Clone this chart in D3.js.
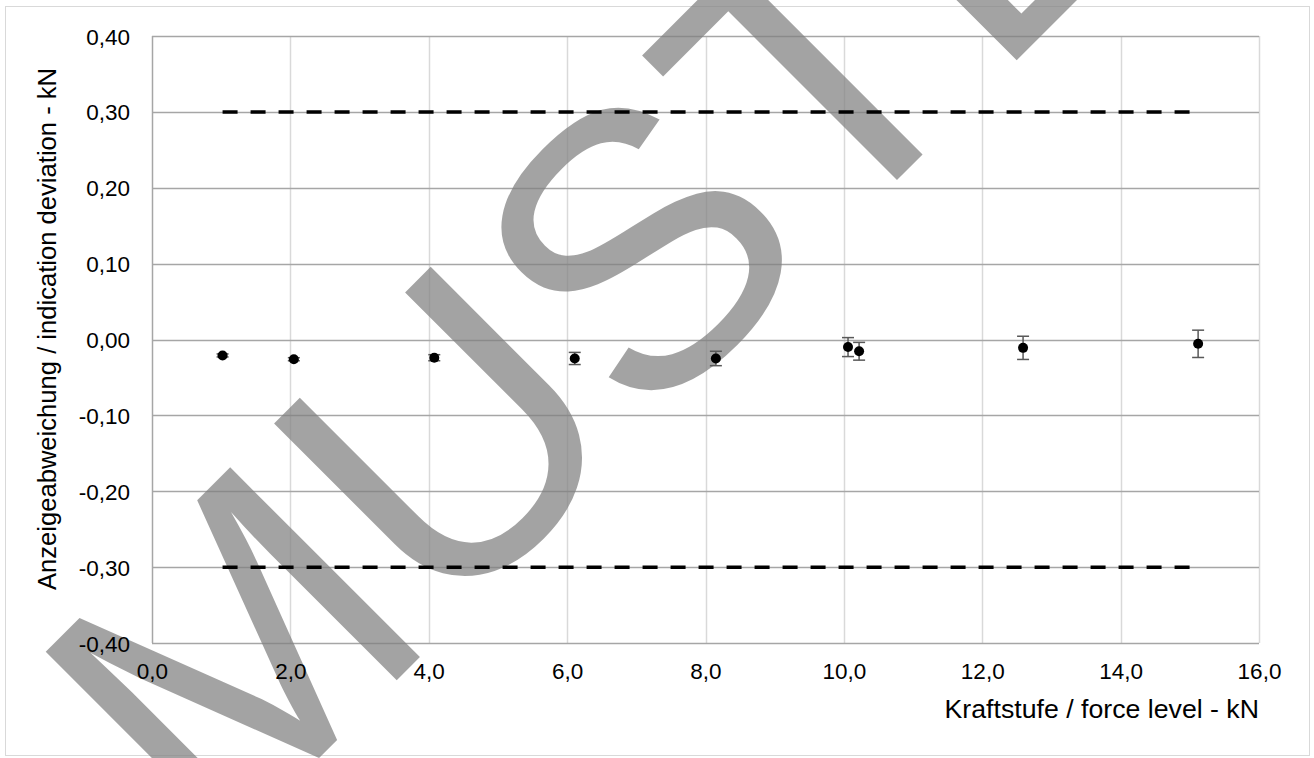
<!DOCTYPE html>
<html>
<head>
<meta charset="utf-8">
<script src="https://cdn.jsdelivr.net/npm/d3@7"></script>
<style>
  html, body { margin: 0; padding: 0; background: #fff; }
  svg { display: block; font-family: "Liberation Sans", Arial, sans-serif; }
</style>
</head>
<body>
<div id="chart"></div>
<script>
/* Anzeigeabweichung vs Kraftstufe, scatter with error bars and +-0,30 kN limits */

// measured points
var forceLevels = [1.02, 2.05, 4.08, 6.11, 8.15, 10.06, 10.22, 12.59, 15.12];
var deviations = [-0.021, -0.026, -0.024, -0.025, -0.025, -0.010, -0.0155, -0.011, -0.0057];
var errors = [0.002, 0.002, 0.004, 0.008, 0.0095, 0.0125, 0.0117, 0.0153, 0.018];

// tolerance limits, drawn across the measured range
var limitX = [1.02, 15.12];
var limitValues = [0.30, -0.30];

// axes
var xTicks = [0, 2, 4, 6, 8, 10, 12, 14, 16];
var yTicks = [-0.4, -0.3, -0.2, -0.1, 0, 0.1, 0.2, 0.3, 0.4];
var xTitle = "Kraftstufe / force level - kN";
var yTitle = "Anzeigeabweichung / indication deviation - kN";
var watermark = "MUSTER";

(function () {
  "use strict";

  var W = 1314, H = 758;
  var m = { l: 152, r: 1259, t: 36, b: 643 };

  var de = d3.formatLocale({ decimal: ",", thousands: ".", grouping: [3], currency: ["", " €"], minus: "-" });
  var fmtY = de.format(".2f");
  var fmtX = de.format(".1f");

  var svg = d3.select("#chart").append("svg").attr("width", W).attr("height", H);

  // outer chart frame
  svg.append("rect").attr("x", 5.5).attr("y", 6.5).attr("width", 1304).attr("height", 749)
    .attr("fill", "#fff").attr("stroke", "#d9d9d9").attr("stroke-width", 1);

  var x = d3.scaleLinear().domain([0, 16]).range([m.l, m.r]);
  var y = d3.scaleLinear().domain([-0.4, 0.4]).range([m.b, m.t]);

  // vertical grid (light)
  svg.append("g").selectAll("line").data(xTicks.slice(1)).join("line")
    .attr("x1", function (d) { return Math.round(x(d)) + 0.5; })
    .attr("x2", function (d) { return Math.round(x(d)) + 0.5; })
    .attr("y1", m.t).attr("y2", m.b)
    .attr("stroke", "#d9d9d9").attr("stroke-width", 1.5);

  // horizontal grid (darker)
  svg.append("g").selectAll("line").data(yTicks.slice(1)).join("line")
    .attr("x1", m.l).attr("x2", m.r)
    .attr("y1", function (d) { return Math.round(y(d)) + 0.5; })
    .attr("y2", function (d) { return Math.round(y(d)) + 0.5; })
    .attr("stroke", "#a6a6a6").attr("stroke-width", 1.5);

  // axis lines
  svg.append("line").attr("x1", m.l + 0.5).attr("x2", m.l + 0.5).attr("y1", m.t).attr("y2", m.b)
    .attr("stroke", "#a6a6a6").attr("stroke-width", 1.5);
  svg.append("line").attr("x1", m.l).attr("x2", m.r).attr("y1", m.b + 0.5).attr("y2", m.b + 0.5)
    .attr("stroke", "#a6a6a6").attr("stroke-width", 1.5);

  // watermark: semi transparent over the grid, under labels and marks
  svg.append("text")
    .attr("transform", "translate(795,282) rotate(-45)")
    .attr("text-anchor", "middle")
    .attr("font-size", 390)
    .attr("fill", "#808080").attr("fill-opacity", 0.72)
    .text(watermark);

  // tick labels via d3 axes, lines hidden
  var yAxis = svg.append("g").attr("transform", "translate(" + (m.l - 22) + ",0)")
    .call(d3.axisLeft(y).tickValues(yTicks).tickFormat(fmtY).tickSize(0).tickPadding(0));
  yAxis.select(".domain").remove();
  yAxis.selectAll("text").attr("font-size", 22.5).attr("fill", "#000")
    .attr("font-family", "'Liberation Sans', Arial, sans-serif").attr("dy", "0.36em");

  var xAxis = svg.append("g").attr("transform", "translate(0," + (m.b + 20) + ")")
    .call(d3.axisBottom(x).tickValues(xTicks).tickFormat(fmtX).tickSize(0).tickPadding(0));
  xAxis.select(".domain").remove();
  xAxis.selectAll("text").attr("font-size", 22.5).attr("fill", "#000")
    .attr("font-family", "'Liberation Sans', Arial, sans-serif").attr("dy", "0.72em");

  // axis titles
  svg.append("text").attr("x", m.r).attr("y", 718).attr("text-anchor", "end")
    .attr("font-size", 26.7).attr("fill", "#000").text(xTitle);
  svg.append("text").attr("transform", "translate(56,329) rotate(-90)")
    .attr("text-anchor", "middle").attr("font-size", 25.6).attr("fill", "#000").text(yTitle);

  // limit lines
  var limitLine = d3.line().x(function (d) { return x(d[0]); }).y(function (d) { return y(d[1]); });
  limitValues.forEach(function (v) {
    svg.append("path")
      .datum(limitX.map(function (lx) { return [lx, v]; }))
      .attr("d", limitLine)
      .attr("fill", "none").attr("stroke", "#000").attr("stroke-width", 3.5)
      .attr("stroke-dasharray", "15,13");
  });

  // error bars
  var pts = forceLevels.map(function (f, i) { return { f: f, v: deviations[i], e: errors[i] }; });
  var eb = svg.append("g").attr("stroke", "#595959").attr("stroke-width", 1.5);
  pts.forEach(function (p) {
    var cx = x(p.f), y0 = y(p.v + p.e), y1 = y(p.v - p.e);
    eb.append("line").attr("x1", cx).attr("x2", cx).attr("y1", y0).attr("y2", y1);
    eb.append("line").attr("x1", cx - 6).attr("x2", cx + 6).attr("y1", y0).attr("y2", y0);
    eb.append("line").attr("x1", cx - 6).attr("x2", cx + 6).attr("y1", y1).attr("y2", y1);
  });

  // markers
  svg.append("g").selectAll("circle").data(pts).join("circle")
    .attr("cx", function (d) { return x(d.f); })
    .attr("cy", function (d) { return y(d.v); })
    .attr("r", 5).attr("fill", "#000");
})();
</script>
</body>
</html>
